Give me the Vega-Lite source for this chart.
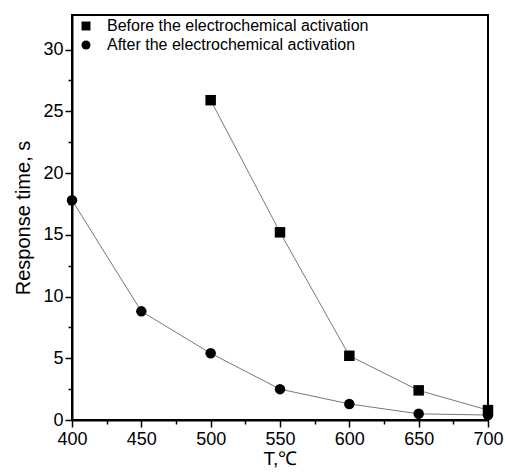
{
  "$schema": "https://vega.github.io/schema/vega-lite/v6.json",
  "width": 416,
  "height": 405,
  "autosize": "none",
  "padding": {"left": 72, "top": 15, "right": 17, "bottom": 53},
  "background": "white",
  "config": {
    "font": "Liberation Sans",
    "view": {"stroke": "black", "strokeWidth": 2},
    "axis": {"grid": false, "domainColor": "black", "domainWidth": 2, "tickColor": "black", "tickWidth": 1.5, "labelColor": "black", "titleColor": "black", "labelFont": "Liberation Sans", "titleFont": "Liberation Sans", "labelFontSize": 18, "titleFontSize": 20, "titleFontWeight": "normal"}
  },
  "data": {"values": [
    {"T": 500, "t": 25.9, "series": "Before the electrochemical activation"},
    {"T": 550, "t": 15.2, "series": "Before the electrochemical activation"},
    {"T": 600, "t": 5.2, "series": "Before the electrochemical activation"},
    {"T": 650, "t": 2.4, "series": "Before the electrochemical activation"},
    {"T": 700, "t": 0.8, "series": "Before the electrochemical activation"},
    {"T": 400, "t": 17.8, "series": "After the electrochemical activation"},
    {"T": 450, "t": 8.8, "series": "After the electrochemical activation"},
    {"T": 500, "t": 5.4, "series": "After the electrochemical activation"},
    {"T": 550, "t": 2.5, "series": "After the electrochemical activation"},
    {"T": 600, "t": 1.3, "series": "After the electrochemical activation"},
    {"T": 650, "t": 0.5, "series": "After the electrochemical activation"},
    {"T": 700, "t": 0.4, "series": "After the electrochemical activation"}
  ]},
  "encoding": {
    "x": {"field": "T", "type": "quantitative", "scale": {"domain": [400, 700], "nice": false},
      "axis": {"values": [400,425,450,475,500,525,550,575,600,625,650,675,700], "labelExpr": "datum.value % 50 === 0 ? datum.label : ''", "tickSize": {"condition": {"test": "datum.value % 50 === 0", "value": 7}, "value": 4}, "title": "T,℃", "titleFontSize": 19, "titlePadding": 1, "labelPadding": 3, "labelFlush": false}},
    "y": {"field": "t", "type": "quantitative", "scale": {"domain": [0, 32.8], "nice": false},
      "axis": {"values": [0,2.5,5,7.5,10,12.5,15,17.5,20,22.5,25,27.5,30], "labelExpr": "datum.value % 5 === 0 ? datum.label : ''", "tickSize": {"condition": {"test": "datum.value % 5 === 0", "value": 7}, "value": 4}, "title": "Response time, s", "titlePadding": 9, "labelPadding": 2}}
  },
  "layer": [
    {"mark": {"type": "line", "color": "#555555", "strokeWidth": 0.8}, "encoding": {"detail": {"field": "series"}}},
    {"mark": {"type": "point", "filled": true, "opacity": 1},
      "encoding": {
        "shape": {"field": "series", "type": "nominal", "scale": {"domain": ["Before the electrochemical activation", "After the electrochemical activation"], "range": ["square", "circle"]},
          "legend": {"title": null, "orient": "none", "legendX": 6, "legendY": 3, "labelFontSize": 16, "labelFont": "Liberation Sans", "labelColor": "black", "labelLimit": 0, "symbolFillColor": "black", "symbolStrokeColor": "black", "symbolSize": 80, "labelOffset": 13, "rowPadding": 3}},
        "size": {"value": 110},
        "color": {"value": "black"}
      }}
  ]
}
